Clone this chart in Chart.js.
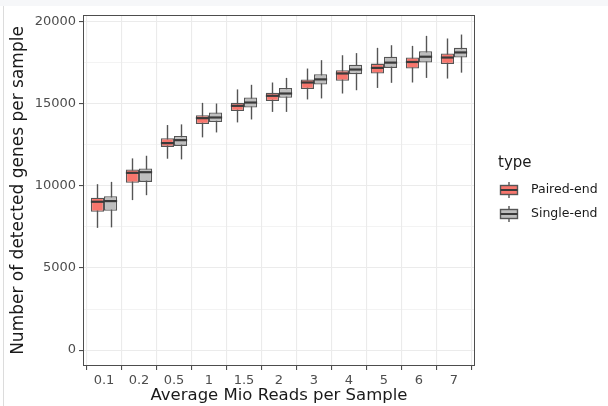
<!DOCTYPE html>
<html>
<head>
<meta charset="utf-8">
<script src="https://cdn.jsdelivr.net/npm/chart.js@4.4.1/dist/chart.umd.min.js"></script>
<style>
  html, body { margin: 0; padding: 0; background: #ffffff; }
  #wrap { position: relative; width: 608px; height: 406px; overflow: hidden; }
  #topband { position: absolute; left: 0; top: 0; width: 608px; height: 6px; background: #f6f7f9; }
  #leftline { position: absolute; left: 3px; top: 6px; width: 1px; height: 400px; background: #dcdcdc; }
  canvas { position: absolute; left: 0; top: 0; }
</style>
</head>
<body>
<div id="wrap">
  <canvas id="c" width="608" height="406"></canvas>
  <div id="topband"></div>
  <div id="leftline"></div>
</div>
<script>
// ---- data ----
const categories = ['0.1', '0.2', '0.5', '1', '1.5', '2', '3', '4', '5', '6', '7'];
const seriesNames = ['Paired-end', 'Single-end'];

const pairedLow    = [7440, 9130, 11650, 12950, 13860, 14500, 15260, 15620, 15960, 16290, 16530];
const pairedQ1     = [8420, 10180, 12370, 13760, 14550, 15160, 15890, 16390, 16840, 17140, 17410];
const pairedMedian = [9030, 10790, 12600, 14120, 14870, 15480, 16290, 16840, 17180, 17540, 17810];
const pairedQ3     = [9270, 11000, 12900, 14300, 15050, 15660, 16480, 17040, 17440, 17810, 18060];
const pairedHigh   = [10100, 11670, 13700, 15050, 15870, 16290, 17140, 17950, 18400, 18520, 18970];

const singleLow    = [7470, 9430, 11610, 13250, 14040, 14500, 15320, 15820, 16270, 16570, 16890];
const singleQ1     = [8480, 10240, 12430, 13880, 14770, 15360, 16170, 16800, 17180, 17510, 17810];
const singleMedian = [9070, 10830, 12780, 14160, 15070, 15620, 16480, 17080, 17500, 17860, 18120];
const singleQ3     = [9370, 11060, 13040, 14470, 15380, 15960, 16800, 17370, 17860, 18200, 18400];
const singleHigh   = [10240, 11830, 13740, 15010, 16150, 16570, 17650, 18080, 18560, 19130, 19210];

const yTickValues = [0, 5000, 10000, 15000, 20000];
const yMinorValues = [2500, 7500, 12500, 17500];

// ---- styling ----
const FONT = "'DejaVu Sans', sans-serif";
Chart.defaults.font.family = FONT;
const fills = ['#F8766D', '#BEBEBE'];
const outline = '#555555';
const medianColor = '#3a3a3a';

const whiskers = [
  { low: pairedLow, high: pairedHigh, median: pairedMedian },
  { low: singleLow, high: singleHigh, median: singleMedian }
];

function boxData(q1, q3) {
  return categories.map((c, i) => ({ x: i, y: [q1[i], q3[i]] }));
}

const boxPlugin = {
  id: 'boxparts',
  beforeDatasetsDraw(chart) {
    const ctx = chart.ctx, ys = chart.scales.y;
    ctx.save();
    ctx.strokeStyle = outline;
    ctx.lineWidth = 1.4;
    whiskers.forEach((w, d) => {
      const meta = chart.getDatasetMeta(d);
      meta.data.forEach((el, j) => {
        const x = Math.round(el.x) + 0.5;
        ctx.beginPath();
        ctx.moveTo(x, ys.getPixelForValue(w.low[j]));
        ctx.lineTo(x, ys.getPixelForValue(w.high[j]));
        ctx.stroke();
      });
    });
    ctx.restore();
  },
  afterDatasetsDraw(chart) {
    const ctx = chart.ctx, ys = chart.scales.y;
    ctx.save();
    ctx.strokeStyle = medianColor;
    ctx.lineWidth = 2.2;
    whiskers.forEach((w, d) => {
      const meta = chart.getDatasetMeta(d);
      meta.data.forEach((el, j) => {
        const y = ys.getPixelForValue(w.median[j]);
        ctx.beginPath();
        ctx.moveTo(el.x - el.width / 2, y);
        ctx.lineTo(el.x + el.width / 2, y);
        ctx.stroke();
      });
    });
    ctx.restore();
  },
  afterDraw(chart) {
    const ctx = chart.ctx, a = chart.chartArea;
    ctx.save();
    // panel border
    ctx.strokeStyle = '#4d4d4d';
    ctx.lineWidth = 1;
    ctx.strokeRect(Math.round(a.left) + 0.5, Math.round(a.top) + 0.5,
                   Math.round(a.right - a.left) - 1, Math.round(a.bottom - a.top) - 1);
    // legend
    ctx.fillStyle = '#1a1a1a';
    ctx.font = '15px ' + FONT;
    ctx.textAlign = 'left';
    ctx.textBaseline = 'alphabetic';
    ctx.fillText('type', 498, 167);
    const keyTops = [181, 205];
    seriesNames.forEach((name, i) => {
      const top = keyTops[i];
      const kx = 500, kw = 18, kh = 18;
      ctx.strokeStyle = outline;
      ctx.lineWidth = 1.4;
      ctx.beginPath();
      ctx.moveTo(kx + kw / 2, top + 1);
      ctx.lineTo(kx + kw / 2, top + kh - 1);
      ctx.stroke();
      ctx.fillStyle = fills[i];
      ctx.fillRect(kx + 0.5, top + 4.5, kw - 1, kh - 9);
      ctx.strokeRect(kx + 0.5, top + 4.5, kw - 1, kh - 9);
      ctx.strokeStyle = medianColor;
      ctx.lineWidth = 2;
      ctx.beginPath();
      ctx.moveTo(kx + 0.5, top + kh / 2);
      ctx.lineTo(kx + kw - 0.5, top + kh / 2);
      ctx.stroke();
      ctx.fillStyle = '#1a1a1a';
      ctx.font = '12.5px ' + FONT;
      ctx.textBaseline = 'middle';
      ctx.fillText(name, 531, top + kh / 2);
    });
    ctx.restore();
  }
};

new Chart(document.getElementById('c'), {
  type: 'bar',
  data: {
    datasets: [
      {
        label: seriesNames[0],
        data: boxData(pairedQ1, pairedQ3),
        backgroundColor: fills[0],
        borderColor: outline,
        borderWidth: 1.3,
        borderSkipped: false,
        categoryPercentage: 0.75,
        barPercentage: 1.0
      },
      {
        label: seriesNames[1],
        data: boxData(singleQ1, singleQ3),
        backgroundColor: fills[1],
        borderColor: outline,
        borderWidth: 1.3,
        borderSkipped: false,
        categoryPercentage: 0.75,
        barPercentage: 1.0
      }
    ]
  },
  options: {
    responsive: false,
    animation: false,
    devicePixelRatio: 1,
    layout: { padding: { left: 0, right: 133, top: 15, bottom: 0 } },
    plugins: { legend: { display: false }, tooltip: { enabled: false } },
    scales: {
      x: {
        type: 'linear',
        min: -0.6,
        max: 10.6,
        offset: false,
        afterFit(scale) { scale.height = 40; },
        afterBuildTicks(scale) { scale.ticks = categories.map((c, i) => ({ value: i })); },
        ticks: {
          autoSkip: false,
          maxRotation: 0,
          color: '#4d4d4d',
          font: { size: 13 },
          padding: 3,
          callback: (v) => categories[v] !== undefined ? categories[v] : ''
        },
        grid: {
          color: '#ebebeb',
          lineWidth: 1.1,
          drawTicks: true,
          tickLength: 4,
          tickColor: '#4d4d4d'
        },
        border: { display: false },
        title: {
          display: true,
          text: 'Average Mio Reads per Sample',
          color: '#1a1a1a',
          font: { size: 16.5 },
          padding: { top: 0, bottom: 0 }
        }
      },
      y: {
        type: 'linear',
        min: -970,
        max: 20400,
        afterFit(scale) { scale.width = 83; },
        afterBuildTicks(scale) {
          scale.ticks = yTickValues.concat(yMinorValues).sort((a, b) => a - b).map(v => ({ value: v }));
        },
        ticks: {
          color: '#4d4d4d',
          font: { size: 13 },
          padding: 3,
          callback: (v) => yTickValues.includes(v) ? String(v) : ''
        },
        grid: {
          color: '#ebebeb',
          lineWidth: (ctx) => (ctx.tick && ctx.tick.value % 5000 === 0) ? 1.1 : 0.6,
          drawTicks: true,
          tickLength: 4,
          tickColor: (ctx) => (ctx.tick && ctx.tick.value % 5000 === 0) ? '#4d4d4d' : 'rgba(0,0,0,0)'
        },
        border: { display: false },
        title: {
          display: true,
          text: 'Number of detected genes per sample',
          color: '#1a1a1a',
          font: { size: 17 },
          padding: { top: 8, bottom: 0 }
        }
      }
    }
  },
  plugins: [boxPlugin]
});
</script>
</body>
</html>
